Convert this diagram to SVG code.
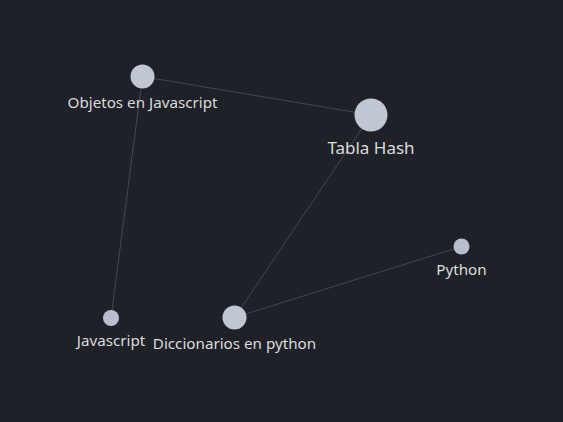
<svg xmlns="http://www.w3.org/2000/svg" width="563" height="422" viewBox="0 0 563 422">
<style>
.bg{fill:#1e2127}
.e{stroke:#45484d;stroke-width:1;fill:none}
.n{fill:#bfc7d3}
.s{fill:#b9bdd0}
text{font-family:"Noto Sans","Open Sans",sans-serif;fill:#dcdcdc;text-anchor:middle;font-size:15.2px}
.big{font-size:17px}
</style>
<rect class="bg" width="563" height="422"/>
<g id="connectors">
<line class="e" x1="142.5" y1="76.5" x2="371" y2="115"/>
<line class="e" x1="142.5" y1="76.5" x2="111" y2="318"/>
<line class="e" x1="371" y1="115" x2="234.5" y2="317.5"/>
<line class="e" x1="234.5" y1="317.5" x2="461.5" y2="246.5"/>
</g>
<g id="objetos"><circle class="n" cx="142.5" cy="76.5" r="12"/><text x="142.5" y="108">Objetos en Javascript</text></g>
<g id="tabla"><circle class="n" cx="371" cy="115" r="16.5"/><text class="big" x="371" y="153.5">Tabla Hash</text></g>
<g id="python"><circle class="s" cx="461.5" cy="246.5" r="8"/><text x="461.5" y="275">Python</text></g>
<g id="javascript"><circle class="s" cx="111" cy="318" r="8"/><text x="111" y="346">Javascript</text></g>
<g id="diccionarios"><circle class="n" cx="234.5" cy="317.5" r="12"/><text x="234.5" y="349">Diccionarios en python</text></g>
</svg>
